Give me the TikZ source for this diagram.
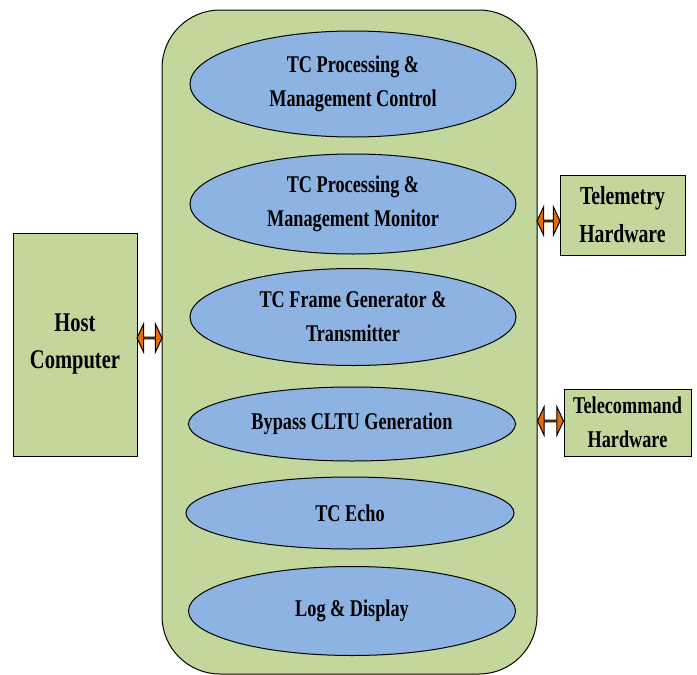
\documentclass[tikz,border=0pt]{standalone}
\usepackage{fontspec}
\setmainfont{Liberation Serif}[FakeStretch=0.76]
\usetikzlibrary{shapes.geometric,shapes.arrows,calc}
\definecolor{boxgreen}{HTML}{C3D69B}
\definecolor{ellblue}{HTML}{8DB3E2}
\definecolor{arrorange}{HTML}{E36C09}
\tikzset{
  txt/.style={align=center,font=\bfseries\fontsize{24}{34}\selectfont,text=black},
  func/.style={ellipse,draw=black,line width=1pt,fill=ellblue,inner sep=0pt,txt},
  extbox/.style={rectangle,draw=black,line width=1pt,fill=boxgreen,inner sep=0pt,txt},
  link/.style={double arrow,draw=black,line width=1pt,fill=arrorange,inner sep=0pt,
     minimum width=28pt,double arrow head extend=7pt,double arrow tip angle=130,
     anchor=center}
}
\begin{document}
\begin{tikzpicture}[x=1pt,y=-1pt]
\useasboundingbox (0,0) rectangle (697,675);
\node[rectangle,rounded corners=58pt,draw=black,line width=1pt,fill=boxgreen,
  minimum width=375pt,minimum height=664pt] (main) at (349.5,342) {};
\node[func,minimum width=326pt,minimum height=106pt] (e1) at (353,84) {TC Processing \&\\Management Control};
\node[func,minimum width=326pt,minimum height=100pt] (e2) at (353,204) {TC Processing \&\\Management Monitor};
\node[func,minimum width=326pt,minimum height=97pt] (e3) at (353,317) {TC Frame Generator \&\\Transmitter};
\node[func,minimum width=327pt,minimum height=74pt] (e4) at (352,424) {Bypass CLTU Generation};
\node[func,minimum width=328pt,minimum height=72pt] (e5) at (350,513) {TC Echo};
\node[func,minimum width=327pt,minimum height=89pt] (e6) at (352,611) {Log \& Display};
\node[extbox,minimum width=124pt,minimum height=223pt,font=\bfseries\fontsize{27}{37}\selectfont] (host) at (75,344.5) {Host\\Computer};
\node[extbox,minimum width=125pt,minimum height=80pt,font=\bfseries\fontsize{26}{38}\selectfont] (tm) at (622.5,215) {Telemetry\\Hardware};
\node[extbox,minimum width=127pt,minimum height=67pt] (tc) at (627.5,422.5) {Telecommand\\Hardware};
\node[link,minimum height=25pt] (a1) at (149.5,338) {};
\node[link,minimum height=23pt] (a2) at (548.5,221) {};
\node[link,minimum height=26pt] (a3) at (550.5,421) {};
\end{tikzpicture}
\end{document}
